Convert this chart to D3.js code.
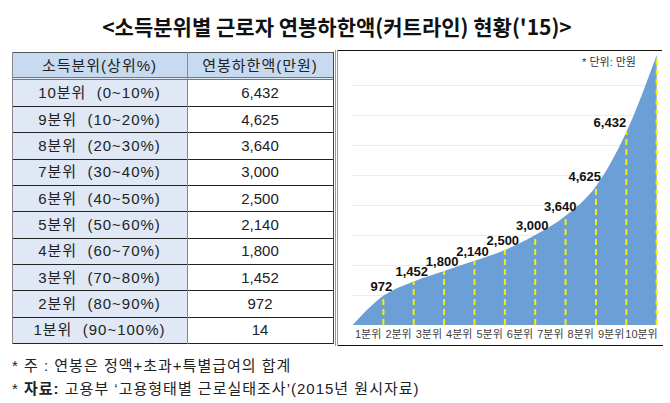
<!DOCTYPE html>
<html><head><meta charset="utf-8">
<script src="https://cdn.jsdelivr.net/npm/d3@7"></script>
<style>
html,body{margin:0;padding:0;background:#fff;}
svg{display:block;}
text{font-family:"Liberation Sans","Noto Sans CJK KR",sans-serif;}
</style></head>
<body>
<svg id="c" width="670" height="403"></svg>
<script>
// ---- data ----
const titleText = "<소득분위별 근로자 연봉하한액(커트라인) 현황('15)>";
const tableHeaders = ["소득분위(상위%)", "연봉하한액(만원)"];
const deciles = ["1분위","2분위","3분위","4분위","5분위","6분위","7분위","8분위","9분위","10분위"];
const ranges = ["(90~100%)","(80~90%)","(70~80%)","(60~70%)","(50~60%)","(40~50%)","(30~40%)","(20~30%)","(10~20%)","(0~10%)"];
const cutoffs = [14, 972, 1452, 1800, 2140, 2500, 3000, 3640, 4625, 6432];
const topValue = 9000;            // estimated: curve leaves the chart at the top
const gridTicks = [1000,2000,3000,4000,5000,6000,7000,8000];
const unitNote = "* 단위: 만원";
const note1 = "* 주 : 연봉은 정액+초과+특별급여의 합계";
const note2a = "* ", note2b = "자료:", note2c = " 고용부 ‘고용형태별 근로실태조사’(2015년 원시자료)";

const svg = d3.select("#c");
const fmt = d3.format(",");

// ---- title ----
svg.append("text").attr("x", 337).attr("y", 35).attr("text-anchor","middle")
  .style("font-family","'Noto Sans CJK KR',sans-serif").style("font-size","21px").style("font-weight","700")
  .attr("fill","#111").text(titleText);

// ---- table ----
const tL = 12, tR = 333, tC = 187, hTop = 52, hBot = 78.5;
const rowsTop = 79.5, rowsBot = 343;
const rowData = deciles.map((d,i)=>({label:d+"  "+ranges[i], v:cutoffs[i]})).reverse();
const ry = d3.scaleBand().domain(d3.range(rowData.length)).range([rowsTop, rowsBot]);

const tg = svg.append("g");
tg.append("rect").attr("x",tL).attr("y",hTop).attr("width",tR-tL).attr("height",hBot-hTop).attr("fill","#c8daf0");
tg.append("rect").attr("x",tL).attr("y",rowsTop).attr("width",tC-tL).attr("height",rowsBot-rowsTop).attr("fill","#dfe8f4");
tg.append("line").attr("x1",tL).attr("x2",tR).attr("y1",hTop+0.5).attr("y2",hTop+0.5).attr("stroke","#555");
tg.append("line").attr("x1",tL).attr("x2",tR).attr("y1",77.5).attr("y2",77.5).attr("stroke","#777");
tg.append("line").attr("x1",tL).attr("x2",tR).attr("y1",79.5).attr("y2",79.5).attr("stroke","#777");
tg.selectAll("line.r").data(d3.range(1,rowData.length+1)).join("line").attr("class","r")
  .attr("x1",tL).attr("x2",tR)
  .attr("y1",i=>Math.round(ry(i-1)+ry.bandwidth())+0.5).attr("y2",i=>Math.round(ry(i-1)+ry.bandwidth())+0.5)
  .attr("stroke","#222");
[tL, tC, tR].forEach((x,k)=>{
  tg.append("line").attr("x1",x+0.5).attr("x2",x+0.5).attr("y1",hTop).attr("y2",rowsBot+1)
    .attr("stroke", k===2 ? "#444" : "#888");
});
tg.selectAll("text.h").data(tableHeaders).join("text").attr("class","h")
  .attr("x",(d,i)=> i===0 ? (tL+tC)/2 : (tC+tR)/2).attr("y",71)
  .attr("text-anchor","middle").style("font-size","15px").style("letter-spacing","1px").attr("fill","#222").text(d=>d);
tg.selectAll("text.l").data(rowData).join("text").attr("class","l")
  .attr("x",(tL+tC)/2).attr("y",(d,i)=>ry(i)+ry.bandwidth()/2+5.5)
  .attr("text-anchor","middle").style("font-size","15px").style("letter-spacing","1px").attr("fill","#222")
  .style("white-space","pre").text(d=>d.label);
tg.selectAll("text.v").data(rowData).join("text").attr("class","v")
  .attr("x",(tC+tR)/2).attr("y",(d,i)=>ry(i)+ry.bandwidth()/2+5.5)
  .attr("text-anchor","middle").style("font-size","15px").attr("fill","#222").text(d=>fmt(d.v));

// ---- chart frame ----
const fg = svg.append("g");
fg.append("line").attr("x1",337).attr("x2",662).attr("y1",50.5).attr("y2",50.5).attr("stroke","#111");
fg.append("line").attr("x1",337).attr("x2",663).attr("y1",345.5).attr("y2",345.5).attr("stroke","#111");
fg.append("line").attr("x1",335.5).attr("x2",335.5).attr("y1",50).attr("y2",346).attr("stroke","#999");
fg.append("line").attr("x1",337.5).attr("x2",337.5).attr("y1",50).attr("y2",346).attr("stroke","#999");

// ---- area chart ----
const x = d3.scaleLinear().domain([0, deciles.length]).range([353, 656.7]);
const y = d3.scaleLinear().domain([0, topValue]).range([325, 55]);
const pts = cutoffs.concat([topValue]).map((v,i)=>({i, v}));

const cg = svg.append("g");
cg.selectAll("line.g").data(gridTicks).join("line").attr("class","g")
  .attr("x1",x(0)).attr("x2",x(deciles.length))
  .attr("y1",d=>Math.round(y(d))+0.5).attr("y2",d=>Math.round(y(d))+0.5)
  .attr("stroke","#ececec");

const area = d3.area().x(d=>x(d.i)).y0(y(0)).y1(d=>y(d.v)).curve(d3.curveMonotoneX);
cg.append("path").datum(pts).attr("d",area).attr("fill","#6b9fd5");

cg.selectAll("line.d").data(pts.slice(1)).join("line").attr("class","d")
  .attr("x1",d=>x(d.i)).attr("x2",d=>x(d.i)).attr("y1",y(0)).attr("y2",d=>y(d.v))
  .attr("stroke","#f2f200").attr("stroke-width",2).attr("stroke-dasharray","6,4");

const lab = pts.slice(1, deciles.length);
cg.selectAll("text.p").data(lab).join("text").attr("class","p")
  .attr("x",d=>{ const diff = pts[d.i+1].v - d.v; return x(d.i) - 2 - Math.max(0, diff-500)*0.007; })
  .attr("y",d=>y(d.v)-5).attr("text-anchor","middle")
  .style("font-size","13px").style("font-weight","700").attr("fill","#111").text(d=>fmt(d.v));

cg.selectAll("text.x").data(deciles).join("text").attr("class","x")
  .attr("x",(d,i)=>x(i+0.5)).attr("y",338).attr("text-anchor","middle")
  .style("font-size","11px").attr("fill","#404040").text(d=>d);

cg.append("text").attr("x",636).attr("y",66).attr("text-anchor","end")
  .style("font-size","11px").attr("fill","#333").text(unitNote);

// ---- footnotes ----
svg.append("text").attr("x",12).attr("y",371).style("font-size","15px").style("letter-spacing","1px").attr("fill","#222")
  .style("white-space","pre").text(note1);
const n2 = svg.append("text").attr("x",12).attr("y",394).style("font-size","15px").style("letter-spacing","1px").attr("fill","#222").style("white-space","pre");
n2.append("tspan").text(note2a);
n2.append("tspan").style("font-weight","700").text(note2b);
n2.append("tspan").text(note2c);
</script>
</body></html>
